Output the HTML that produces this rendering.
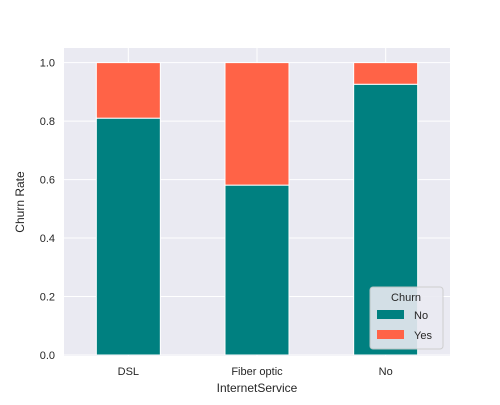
<!DOCTYPE html>
<html><head><meta charset="utf-8"><style>
body{margin:0;background:#fff;}
text{font-family:"Liberation Sans","DejaVu Sans",sans-serif;fill:#262626;}
</style></head><body>
<svg id="chart" width="500" height="400" xmlns="http://www.w3.org/2000/svg">
<rect x="64" y="48" width="386" height="308" fill="#eaeaf2"/>
<g id="grid"></g><g id="bars"></g><g id="ticks"></g>
<text x="257" y="392" font-size="12" text-anchor="middle">InternetService</text>
<text x="24" y="202" font-size="12" text-anchor="middle" transform="rotate(-90 24 202)">Churn Rate</text>
<g>
<rect x="370" y="287" width="73" height="62" rx="3" fill="#eaeaf2" stroke="#cccccc" opacity="0.9"/>
<text x="406" y="301" font-size="11" text-anchor="middle">Churn</text>
<rect x="377" y="310" width="27" height="9" fill="#008080"/>
<text x="414" y="319" font-size="11">No</text>
<rect x="377" y="330" width="27" height="9" fill="#ff6347"/>
<text x="414" y="339" font-size="11">Yes</text>
</g>
</svg>
<script>
const categories = ["DSL", "Fiber optic", "No"];
const noValues = [0.810, 0.581, 0.926];
const yesValues = [0.190, 0.419, 0.074];
const yTicks = [0.0, 0.2, 0.4, 0.6, 0.8, 1.0];
const yTickLabels = ["0.0", "0.2", "0.4", "0.6", "0.8", "1.0"];

const NS = "http://www.w3.org/2000/svg";
const x0 = 64, x1 = 450, y0 = 355, yMax = 1.05, yTop = 48;
function yScale(v){ return y0 - v / yMax * (y0 - yTop); }
function xCenter(i){ return x0 + (x1 - x0) * (i + 0.5) / categories.length; }
const bw = 64;
function mk(tag, attrs, parent){ const e = document.createElementNS(NS, tag); for (const k in attrs) e.setAttribute(k, attrs[k]); parent.appendChild(e); return e; }
const grid = document.getElementById('grid'), bars = document.getElementById('bars'), ticks = document.getElementById('ticks');
yTicks.forEach((t, i) => {
  const y = yScale(t);
  const l = mk('line', {x1: x0, x2: x1, y1: y, y2: y, stroke: '#fff', 'stroke-width': 1}, grid);
  
  
  const tx = mk('text', {x: 55, y: y + 4, 'font-size': 11, 'text-anchor': 'end'}, ticks);
  tx.textContent = yTickLabels[i];
  
  
});
categories.forEach((c, i) => {
  const cx = xCenter(i);
  const l = mk('line', {x1: cx, x2: cx, y1: yTop, y2: 356, stroke: '#fff', 'stroke-width': 1}, grid);
  
  
  const yNo = yScale(noValues[i]);
  const b1 = mk('rect', {x: cx - bw/2, y: yNo, width: bw, height: y0 - yNo, fill: '#008080', stroke: '#fff', 'stroke-width': 1}, bars);
  
  
  const yYes = yScale(noValues[i] + yesValues[i]);
  const b2 = mk('rect', {x: cx - bw/2, y: yYes, width: bw, height: yNo - yYes, fill: '#ff6347', stroke: '#fff', 'stroke-width': 1}, bars);
  
  
  const tx = mk('text', {x: cx, y: 375, 'font-size': 11, 'text-anchor': 'middle'}, ticks);
  tx.textContent = c;
  
  
});
</script>
</body></html>
